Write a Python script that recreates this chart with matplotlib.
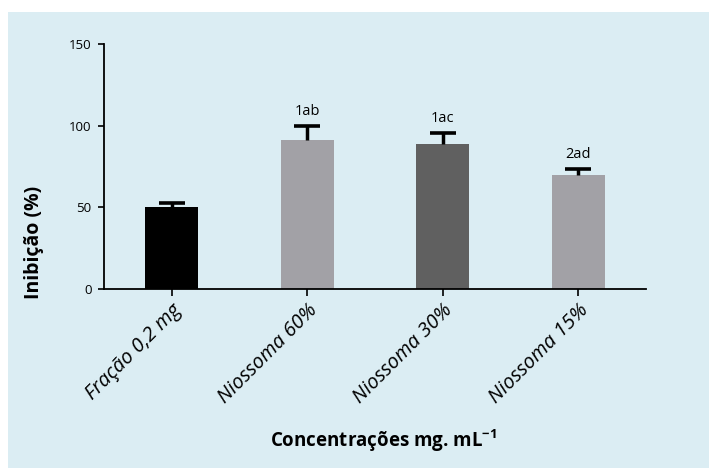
import matplotlib
matplotlib.use('Agg')
import matplotlib.pyplot as plt
from matplotlib.patches import Rectangle
import numpy as np

categories = ['Fração 0,2 mg', 'Niossoma 60%', 'Niossoma 30%', 'Niossoma 15%']
inhibition = [50.0, 91.5, 88.6, 69.7]
error_up = [2.7, 8.1, 7.2, 3.5]
letters = ['', '1ab', '1ac', '2ad']
bar_colors = ['#000000', '#a2a1a6', '#606060', '#a2a1a6']

plt.rcParams['font.family'] = ['Open Sans', 'DejaVu Sans']
plt.rcParams['mathtext.default'] = 'regular'

panel = '#dbedf3'
fig = plt.figure(figsize=(7.09, 4.68), dpi=100)
fig.patch.set_facecolor('white')
fig.patches.append(Rectangle((8 / 709, 0), 1, 1 - 12 / 468, transform=fig.transFigure,
                             facecolor=panel, edgecolor='none', zorder=-10))

ax = fig.add_axes([104 / 709, 1 - 289 / 468, (646 - 104) / 709, (289 - 44) / 468])
ax.set_facecolor('none')

x = np.arange(len(categories))
tops = np.array(inhibition) + np.array(error_up)
ax.bar(x, inhibition, width=0.39, color=bar_colors, zorder=2)
# upper error only: stem from bar top, single cap on top
ax.errorbar(x, inhibition, yerr=[np.zeros(len(x)), error_up], fmt='none',
            ecolor='black', elinewidth=2.5, capsize=0, zorder=3)
ax.plot(x, tops, ls='none', marker='_', markersize=19, markeredgewidth=2.6,
        color='black', zorder=3)

for xi, t, lab in zip(x, tops, letters):
    if lab:
        ax.annotate(lab, (xi, t), xytext=(0, 5), textcoords='offset points',
                    ha='center', va='bottom', fontsize=10.5)

ax.set_xlim(-0.5, 3.5)
ax.set_ylim(0, 150)
ax.set_yticks([0, 50, 100, 150])
ax.tick_params(axis='y', length=4, width=1.2, labelsize=9.5, pad=5)
ax.tick_params(axis='x', length=5, width=1.2, pad=3)
ax.set_xticks(x)
ax.set_xticklabels(categories, rotation=45, ha='right', rotation_mode='anchor',
                   fontsize=14.5, style='italic')

for side in ('top', 'right'):
    ax.spines[side].set_visible(False)
for side in ('left', 'bottom'):
    ax.spines[side].set_linewidth(1.3)

fig.text(34 / 709, 1 - 242 / 468, 'Inibição (%)', rotation=90, ha='center', va='center',
         fontsize=14, fontweight='bold')
fig.text(383 / 709, 1 - 441 / 468, 'Concentrações mg. mL$^{-1}$', ha='center', va='center',
         fontsize=13.5, fontweight='bold')

fig.savefig('out.png', dpi=100, facecolor=fig.get_facecolor())
